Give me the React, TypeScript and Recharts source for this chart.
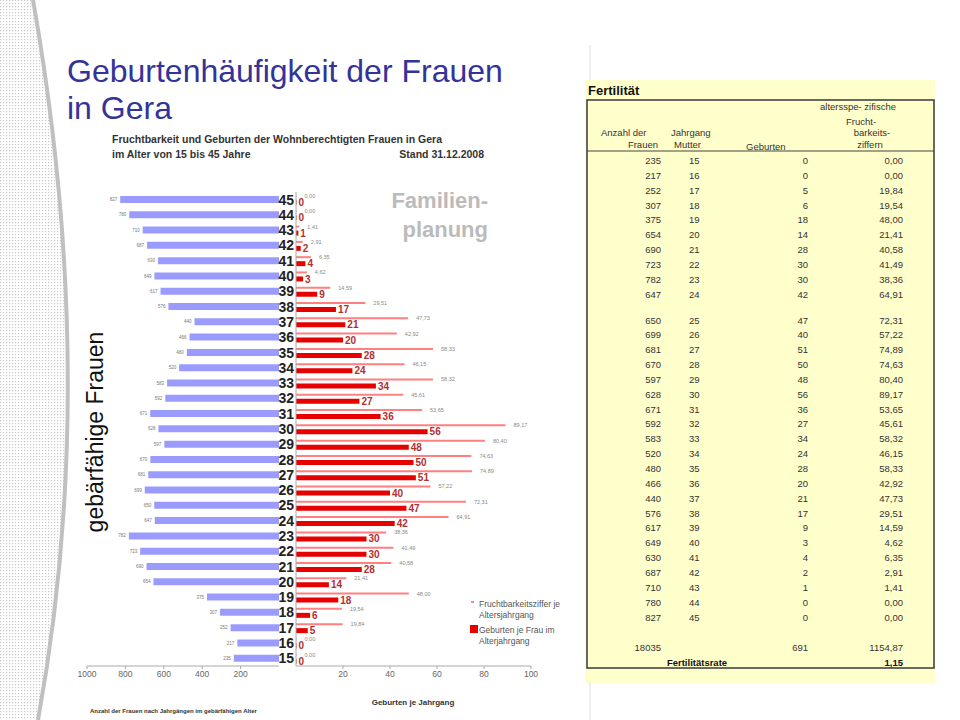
import React from 'react'
import { Bar, BarChart, LabelList, XAxis, YAxis } from 'recharts'

// Werte aus der Tabelle "Fertilität" (Gera, Stand 31.12.2008)
const ages = [15, 16, 17, 18, 19, 20, 21, 22, 23, 24, 25, 26, 27, 28, 29, 30, 31, 32, 33, 34, 35, 36, 37, 38, 39, 40, 41, 42, 43, 44, 45]
const frauen = [235, 217, 252, 307, 375, 654, 690, 723, 782, 647, 650, 699, 681, 670, 597, 628, 671, 592, 583, 520, 480, 466, 440, 576, 617, 649, 630, 687, 710, 780, 827]
const geburten = [0, 0, 5, 6, 18, 14, 28, 30, 30, 42, 47, 40, 51, 50, 48, 56, 36, 27, 34, 24, 28, 20, 21, 17, 9, 3, 4, 2, 1, 0, 0]
const ziffer = [0, 0, 19.84, 19.54, 48.0, 21.41, 40.58, 41.49, 38.36, 64.91, 72.31, 57.22, 74.89, 74.63, 80.4, 89.17, 53.65, 45.61, 58.32, 46.15, 58.33, 42.92, 47.73, 29.51, 14.59, 4.62, 6.35, 2.91, 1.41, 0, 0]
const frauenTicks = [200, 400, 600, 800, 1000]
const geburtenTicks = [20, 40, 60, 80, 100]
const summeFrauen = 18035
const summeGeburten = 691
const summeZiffer = 1154.87
const fertilitaetsrate = 1.15

const FONT = 'Liberation Sans, Arial, sans-serif'
const fmt = (v: number) => v.toFixed(2).replace('.', ',')

// oberste Zeile = 45 Jahre
const chartData = ages
    .map((age, i) => ({ age: String(age), frauen: frauen[i], geburten: geburten[i], ziffer: ziffer[i] }))
    .reverse()

const BlueLabel = (props: any) => {
    const x = Number(props.x), w = Number(props.width), y = Number(props.y), h = Number(props.height)
    const left = Math.min(x, x + w)
    return (
        <text x={left - 3} y={y + h / 2} dy={1.6} textAnchor="end" fontSize={4.5} fill="#777">
            {props.value}
        </text>
    )
}

const rowY = (i: number) => 160.5 + i * 14.85 + (i >= 10 ? 11 : 0)

function Background() {
    return (
        <svg width={960} height={720} style={{ position: 'absolute', left: 0, top: 0 }} fontFamily={FONT}>
            <defs>
                <pattern id="dots" width={3} height={3} patternUnits="userSpaceOnUse">
                    <rect width={3} height={3} fill="#fff" />
                    <rect width={1.2} height={1.2} fill="#c8c8c8" />
                </pattern>
            </defs>
            <path d="M0,0 L33,0 Q100,380 38,720 L0,720 Z" fill="url(#dots)" />
            <path d="M33,0 Q100,380 38,720" fill="none" stroke="#c0c0c0" strokeWidth={4} />
            <line x1={590} y1={45} x2={590} y2={720} stroke="#ddd" strokeWidth={1} />

            <text x={67} y={82} fontSize={32} fill="#333399">Geburtenhäufigkeit der Frauen</text>
            <text x={67} y={119} fontSize={32} fill="#333399">in Gera</text>

            <text x={112} y={143} fontSize={10.5} fontWeight="bold" fill="#333">Fruchtbarkeit und Geburten der Wohnberechtigten Frauen in Gera</text>
            <text x={112} y={158} fontSize={10.5} fontWeight="bold" fill="#333">im Alter von 15 bis 45 Jahre</text>
            <text x={484} y={158} fontSize={10.5} fontWeight="bold" fill="#333" textAnchor="end">Stand 31.12.2008</text>

            <text x={488} y={208} fontSize={22} fontWeight="bold" fill="#bbb" textAnchor="end">Familien-</text>
            <text x={488} y={237} fontSize={22} fontWeight="bold" fill="#bbb" textAnchor="end">planung</text>

            <text transform="translate(103,432) rotate(-90)" fontSize={23} fill="#111" textAnchor="middle">gebärfähige Frauen</text>

            <text x={413} y={705} fontSize={8} fontWeight="bold" fill="#333" textAnchor="middle">Geburten je Jahrgang</text>
            <text x={90} y={713} fontSize={6} fontWeight="bold" fill="#333">Anzahl der Frauen nach Jahrgängen im gebärfähigen Alter</text>

            {/* Legende */}
            <rect x={471} y={601} width={3} height={2} fill="#ff8080" />
            <text x={479} y={607} fontSize={8.5} fill="#555">Fruchtbarkeitsziffer je</text>
            <text x={479} y={618} fontSize={8.5} fill="#555">Altersjahrgang</text>
            <rect x={470} y={625} width={8} height={8} fill="#e60000" />
            <text x={479} y={633} fontSize={8.5} fill="#555">Geburten je Frau im</text>
            <text x={479} y={644} fontSize={8.5} fill="#555">Alterjahrgang</text>

            {/* Tabelle */}
            <rect x={585} y={80} width={350} height={603} fill="#ffffcc" />
            <rect x={587} y={100} width={347} height={568} fill="none" stroke="#444" strokeWidth={1.6} />
            <line x1={587} y1={151} x2={934} y2={151} stroke="#444" strokeWidth={1.2} />
            <text x={588} y={95} fontSize={13} fontWeight="bold" fill="#111">Fertilität</text>
            <g fontSize={9.5} fill="#333">
                <text x={858} y={110} textAnchor="middle">altersspe- zifische</text>
                <text x={861} y={125} textAnchor="middle">Frucht-</text>
                <text x={872} y={136} textAnchor="middle">barkeits-</text>
                <text x={870} y={148} textAnchor="middle">ziffern</text>
                <text x={601} y={136}>Anzahl der</text>
                <text x={658} y={148} textAnchor="end">Frauen</text>
                <text x={671} y={136}>Jahrgang</text>
                <text x={701} y={148} textAnchor="end">Mutter</text>
                <text x={746} y={150}>Geburten</text>
                {ages.map((age, i) => (
                    <g key={age}>
                        <text x={661} y={rowY(i) + 3.5} textAnchor="end">{frauen[i]}</text>
                        <text x={689} y={rowY(i) + 3.5}>{age}</text>
                        <text x={808} y={rowY(i) + 3.5} textAnchor="end">{geburten[i]}</text>
                        <text x={903} y={rowY(i) + 3.5} textAnchor="end">{fmt(ziffer[i])}</text>
                    </g>
                ))}
                <text x={661} y={650.5} textAnchor="end">{summeFrauen}</text>
                <text x={808} y={650.5} textAnchor="end">{summeGeburten}</text>
                <text x={903} y={650.5} textAnchor="end">{fmt(summeZiffer)}</text>
                <text x={697} y={665.5} textAnchor="middle" fontWeight="bold" fill="#111">Fertilitätsrate</text>
                <text x={903} y={665.5} textAnchor="end" fontWeight="bold" fill="#111">{fmt(fertilitaetsrate)}</text>
            </g>
        </svg>
    )
}

function FrauenChart() {
    return (
        <div style={{ position: 'absolute', left: 0, top: 0 }}>
            <BarChart layout="vertical" width={300} height={720} data={chartData}
                margin={{ top: 192, right: 21, bottom: 24, left: 87 }}>
                <XAxis type="number" domain={[0, 1000]} reversed ticks={frauenTicks} height={30}
                    stroke="#aaa" tickSize={3} tick={{ fontSize: 8.5, fill: '#666' }} />
                <YAxis type="category" dataKey="age" hide />
                <Bar dataKey="frauen" fill="#9b9bff" barSize={7} isAnimationActive={false}>
                    <LabelList dataKey="frauen" content={BlueLabel} />
                </Bar>
            </BarChart>
        </div>
    )
}

function GeburtenChart() {
    return (
        <div style={{ position: 'absolute', left: 0, top: 0 }}>
            <BarChart layout="vertical" width={600} height={720} data={chartData} barGap={3}
                margin={{ top: 192, right: 69, bottom: 24, left: 276 }}>
                <XAxis type="number" domain={[0, 100]} ticks={geburtenTicks} height={30}
                    stroke="#aaa" tickSize={3} tick={{ fontSize: 8.5, fill: '#666' }} />
                <YAxis type="category" dataKey="age" width={20} interval={0} tickLine={false} tickSize={0}
                    tickMargin={2} axisLine={{ stroke: '#aaa' }}
                    tick={{ fontSize: 14, fontWeight: 'bold', fill: '#222' }} />
                <Bar dataKey="ziffer" fill="#ff8080" barSize={2} minPointSize={0.5} isAnimationActive={false}>
                    <LabelList dataKey="ziffer" position="right" offset={8}
                        formatter={(v: any) => fmt(Number(v))} style={{ fontSize: 5.5, fill: '#888' }} />
                </Bar>
                <Bar dataKey="geburten" fill="#e60000" barSize={5} minPointSize={0.5} isAnimationActive={false}>
                    <LabelList dataKey="geburten" position="right" offset={2}
                        style={{ fontSize: 10, fontWeight: 'bold', fill: '#b03030' }} />
                </Bar>
            </BarChart>
        </div>
    )
}

export default function App() {
    return (
        <div style={{ position: 'absolute', left: 0, top: 0, width: 960, height: 720, overflow: 'hidden', background: '#fff', fontFamily: FONT }}>
            <Background />
            <FrauenChart />
            <GeburtenChart />
        </div>
    )
}
